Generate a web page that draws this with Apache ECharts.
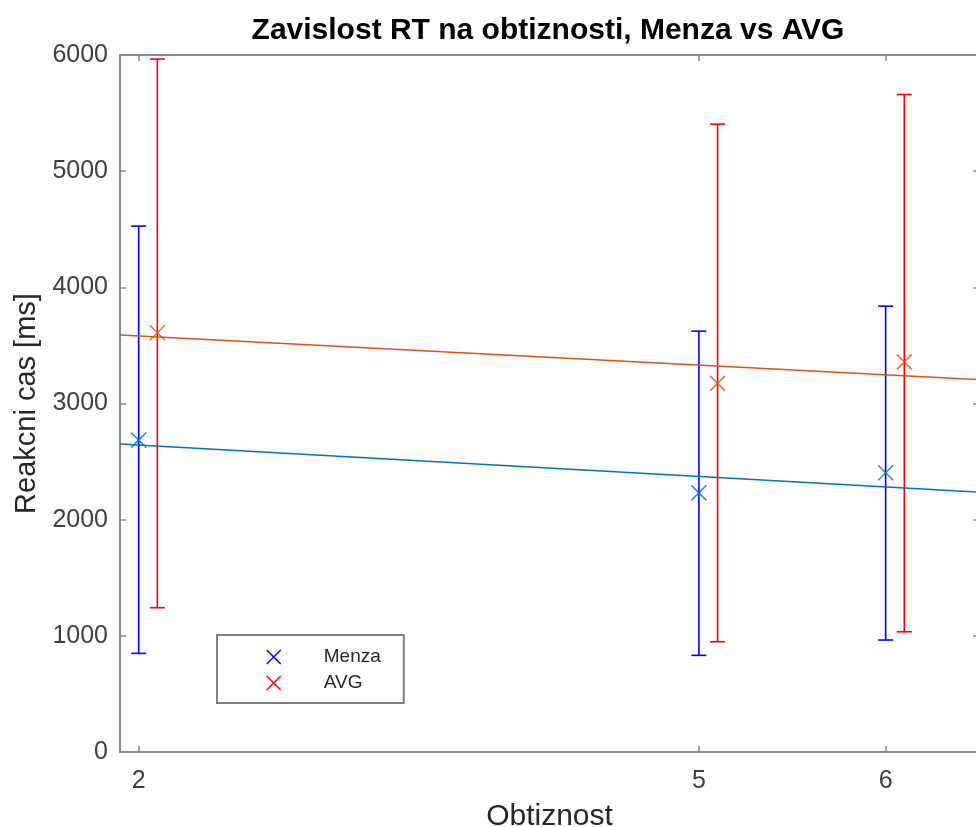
<!DOCTYPE html>
<html>
<head>
<meta charset="utf-8">
<title>Zavislost RT na obtiznosti</title>
<script src="https://cdn.jsdelivr.net/npm/echarts@6/dist/echarts.min.js"></script>
<style>
  html, body { margin: 0; padding: 0; background: #fff; }
  #chart { width: 976px; height: 827px; }
</style>
</head>
<body>
<div id="chart"></div>
<script>
// hodnoty
const difficulty = [2, 5, 6];
const menzaMean = [2685, 2231, 2404];
const menzaLow = [849, 832, 964];
const menzaHigh = [4527, 3623, 3838];

// AVG je posunute o 0.1 doprava
const avgX = [2.1, 5.1, 6.1];
const avgMean = [3609, 3173, 3358];
const avgLow = [1242, 949, 1035];
const avgHigh = [5965, 5405, 5660];

// primky trendu (konce na okraji grafu)
const fitX = [1.9, 6.5];
const menzaFit = [2652, 2237];
const avgFit = [3590, 3205];

const xTicks = [2, 5, 6];

const X_PATH = 'path://M0,0L10,10M10,0L0,10';
const FONT = 'Liberation Sans, Arial, Helvetica, sans-serif';
const AXIS_COLOR = '#8a8a8a';

function errorBar(color) {
  return function (params, api) {
    const x = api.value(0);
    const top = api.coord([x, api.value(2)]);
    const bot = api.coord([x, api.value(1)]);
    const half = 7.5;
    const style = { stroke: color, lineWidth: 1.6 };
    return {
      type: 'group',
      children: [
        { type: 'line', shape: { x1: top[0], y1: top[1], x2: bot[0], y2: bot[1] }, style: style },
        { type: 'line', shape: { x1: top[0] - half, y1: top[1], x2: top[0] + half, y2: top[1] }, style: style },
        { type: 'line', shape: { x1: bot[0] - half, y1: bot[1], x2: bot[0] + half, y2: bot[1] }, style: style }
      ]
    };
  };
}

function zip3(a, b, c) {
  return a.map((v, i) => [v, b[i], c[i]]);
}
function zip2(a, b) {
  return a.map((v, i) => [v, b[i]]);
}

let myChart = echarts.init(document.getElementById('chart'));

let baseX = {
  type: 'value',
  min: 1.9,
  max: 6.5,
  splitLine: { show: false },
  axisLine: { onZero: false, lineStyle: { color: AXIS_COLOR, width: 2 } },
  axisTick: { inside: true, length: 6, customValues: xTicks, lineStyle: { color: AXIS_COLOR, width: 1.5 } }
};
let baseY = {
  type: 'value',
  min: 0,
  max: 6000,
  interval: 1000,
  splitLine: { show: false },
  axisLine: { show: true, onZero: false, lineStyle: { color: AXIS_COLOR, width: 2 } },
  axisTick: { show: true, inside: true, length: 6, lineStyle: { color: AXIS_COLOR, width: 1.5 } }
};

let option = {
  animation: false,
  backgroundColor: '#fff',
  title: {
    text: 'Zavislost RT na obtiznosti, Menza vs AVG',
    left: 543,
    textAlign: 'center',
    top: 11,
    textStyle: { fontFamily: FONT, fontSize: 30, fontWeight: 'bold', color: '#000' }
  },
  grid: { left: 120, right: -3, top: 55, bottom: 75, outerBoundsMode: 'none', containLabel: false },
  legend: {
    left: 217,
    top: 635,
    orient: 'vertical',
    itemWidth: 14,
    itemHeight: 14,
    itemGap: 6,
    padding: [12, 23, 10, 49],
    borderColor: '#7f7f7f',
    borderWidth: 2,
    borderRadius: 0,
    backgroundColor: '#fff',
    textStyle: { fontFamily: FONT, fontSize: 19, color: '#262626', lineHeight: 20, padding: [0, 0, 0, 38] },
    data: [
      { name: 'Menza', icon: X_PATH, itemStyle: { color: 'transparent', borderColor: '#0000ff', borderWidth: 1.5 } },
      { name: 'AVG', icon: X_PATH, itemStyle: { color: 'transparent', borderColor: '#ff0000', borderWidth: 1.5 } }
    ]
  },
  xAxis: [
    Object.assign({}, baseX, {
      position: 'bottom',
      name: 'Obtiznost',
      nameLocation: 'middle',
      nameGap: 50,
      nameTextStyle: { fontFamily: FONT, fontSize: 30, color: '#262626' },
      axisLabel: { customValues: xTicks, margin: 17, fontFamily: FONT, fontSize: 25, color: '#404040' }
    }),
    Object.assign({}, baseX, {
      position: 'top',
      axisLabel: { show: false }
    })
  ],
  yAxis: [
    Object.assign({}, baseY, {
      position: 'left',
      name: 'Reakcni cas [ms]',
      nameLocation: 'middle',
      nameGap: 71,
      nameTextStyle: { fontFamily: FONT, fontSize: 29, color: '#262626' },
      axisLabel: {
        margin: 12, fontFamily: FONT, fontSize: 25, color: '#404040',
        formatter: function (v) { return String(v); }
      }
    }),
    Object.assign({}, baseY, {
      position: 'right',
      axisLabel: { show: false }
    })
  ],
  series: [
    {
      name: 'Menza',
      type: 'custom',
      renderItem: errorBar('#0000ff'),
      encode: { x: 0, y: [1, 2] },
      data: zip3(difficulty, menzaLow, menzaHigh),
      z: 2
    },
    {
      name: 'AVG',
      type: 'custom',
      renderItem: errorBar('#ff0000'),
      encode: { x: 0, y: [1, 2] },
      data: zip3(avgX, avgLow, avgHigh),
      z: 2
    },
    {
      name: 'Menza fit',
      type: 'line',
      data: zip2(fitX, menzaFit),
      showSymbol: false,
      lineStyle: { color: '#0072BD', width: 1.6 },
      z: 3
    },
    {
      name: 'AVG fit',
      type: 'line',
      data: zip2(fitX, avgFit),
      showSymbol: false,
      lineStyle: { color: '#D95319', width: 1.6 },
      z: 3
    },
    {
      name: 'Menza mean',
      type: 'scatter',
      symbol: X_PATH,
      symbolSize: 15,
      data: zip2(difficulty, menzaMean),
      itemStyle: { color: 'transparent', borderColor: '#0072BD', borderWidth: 1.6 },
      z: 4
    },
    {
      name: 'AVG mean',
      type: 'scatter',
      symbol: X_PATH,
      symbolSize: 15,
      data: zip2(avgX, avgMean),
      itemStyle: { color: 'transparent', borderColor: '#D95319', borderWidth: 1.6 },
      z: 4
    }
  ]
};

myChart.setOption(option);
</script>
</body>
</html>
